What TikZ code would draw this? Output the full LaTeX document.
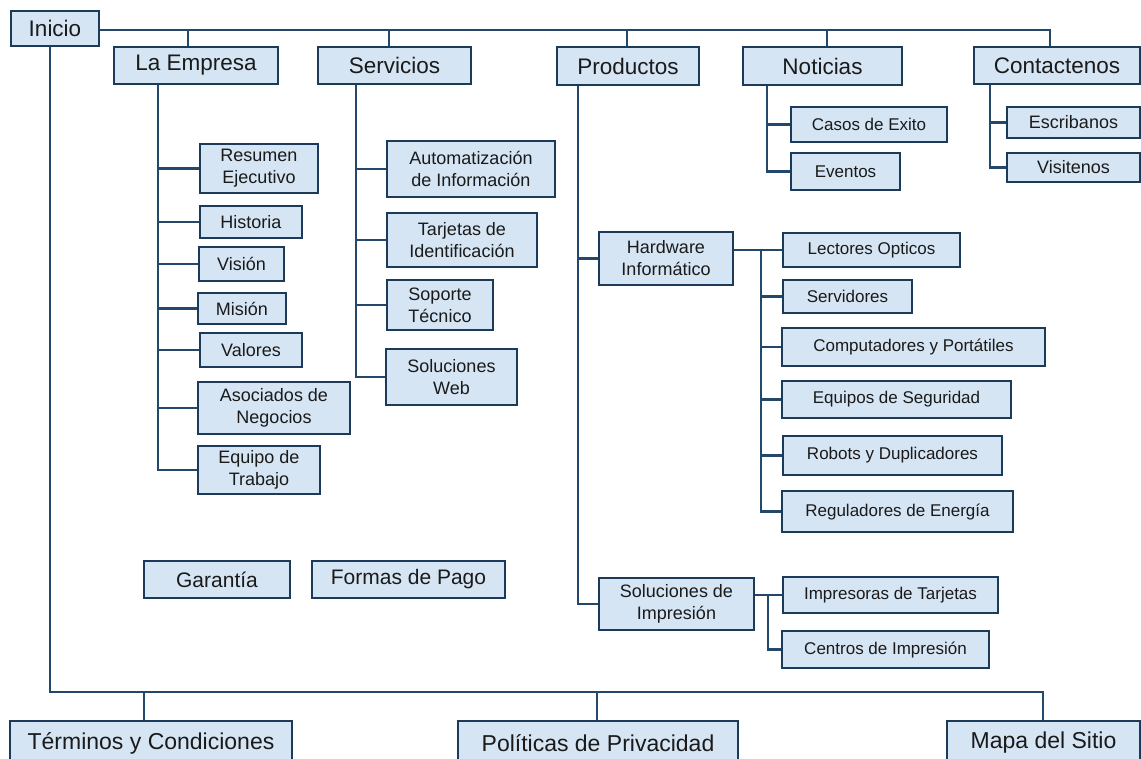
\documentclass[tikz,border=0pt]{standalone}
\usepackage{fontspec}
\setmainfont{Liberation Sans}
\definecolor{boxc}{HTML}{1C3B5A}
\definecolor{linec}{HTML}{24486C}
\definecolor{fillc}{HTML}{D6E5F4}
\definecolor{txt}{HTML}{1A1A1A}
\tikzset{
  box/.style={draw=boxc, fill=fillc, line width=2.6pt, inner sep=0pt, align=center, text=txt},
  big/.style={font=\fontsize{22.5}{26}\selectfont},
  bot/.style={font=\fontsize{23}{27}\selectfont},
  mid/.style={font=\fontsize{21}{25}\selectfont},
  med/.style={font=\fontsize{18}{22}\selectfont},
  sml/.style={font=\fontsize{17}{21}\selectfont},
  conn/.style={draw=linec, line width=2.8pt},
}
\begin{document}
\begin{tikzpicture}[x=1pt,y=-1pt]
\clip (0,0) rectangle (1141,758);
\fill[white] (0,0) rectangle (1141,758);
% level 1
\node[box,big,minimum width=88pt,minimum height=35pt] (Ini) at (55,28.5) {Inicio};
\node[box,big,minimum width=164pt,minimum height=37pt] (LE) at (196,65.5) {La Empresa};
\node[box,big,minimum width=153pt,minimum height=37pt] (Sv) at (394.5,65.5) {Servicios};
\node[box,big,minimum width=142pt,minimum height=38pt] (Pr) at (628,66) {Productos};
\node[box,big,minimum width=159pt,minimum height=38pt] (No) at (822.5,66) {Noticias};
\node[box,big,minimum width=166pt,minimum height=37pt] (Co) at (1057,65.5) {Contactenos};
% La Empresa
\node[box,med,minimum width=118pt,minimum height=49pt] (Res) at (259,168.5) {Resumen\\Ejecutivo};
\node[box,med,minimum width=102pt,minimum height=32pt] (His) at (251,222) {Historia};
\node[box,med,minimum width=85pt,minimum height=34pt] (Vis) at (241.5,264) {Visión};
\node[box,med,minimum width=88pt,minimum height=31pt] (Mis) at (242,308.5) {Misión};
\node[box,med,minimum width=102pt,minimum height=34pt] (Val) at (251,350) {Valores};
\node[box,med,minimum width=152pt,minimum height=52pt] (Aso) at (274,408) {Asociados de\\Negocios};
\node[box,med,minimum width=122pt,minimum height=48pt] (Eqt) at (259,470) {Equipo de\\Trabajo};
% Servicios
\node[box,med,minimum width=168pt,minimum height=56pt] (Aut) at (471,169) {Automatización\\de Información};
\node[box,med,minimum width=150pt,minimum height=54pt] (Tar) at (462,240) {Tarjetas de\\Identificación};
\node[box,med,minimum width=106pt,minimum height=50pt] (Sop) at (440,305) {Soporte\\Técnico};
\node[box,med,minimum width=131pt,minimum height=56pt] (SWe) at (451.5,377) {Soluciones\\Web};
% Productos
\node[box,med,minimum width=134pt,minimum height=53pt] (Hw) at (666,258.5) {Hardware\\Informático};
\node[box,sml,minimum width=177pt,minimum height=34pt] (Lec) at (871.5,250) {Lectores Opticos};
\node[box,sml,minimum width=129pt,minimum height=33pt] (Ser) at (847.5,296.5) {Servidores};
\node[box,sml,minimum width=263pt,minimum height=38pt] (Com) at (913.5,347) {Computadores y Portátiles};
\node[box,sml,minimum width=229pt,minimum height=37pt] (EqS) at (896.5,399.5) {Equipos de Seguridad};
\node[box,sml,minimum width=219pt,minimum height=39pt] (Rob) at (892.5,455.5) {Robots y Duplicadores};
\node[box,sml,minimum width=231pt,minimum height=41pt] (Reg) at (897.5,511.5) {Reguladores de Energía};
\node[box,med,minimum width=155pt,minimum height=52pt] (SIm) at (676.5,604) {Soluciones de\\Impresión};
\node[box,sml,minimum width=215pt,minimum height=36pt] (Imp) at (890.5,595) {Impresoras de Tarjetas};
\node[box,sml,minimum width=207pt,minimum height=37pt] (Cen) at (885.5,649.5) {Centros de Impresión};
% Noticias
\node[box,sml,minimum width=156pt,minimum height=35pt] (Cas) at (869,124.5) {Casos de Exito};
\node[box,sml,minimum width=109pt,minimum height=37pt] (Eve) at (845.5,171.5) {Eventos};
% Contactenos
\node[box,med,minimum width=133pt,minimum height=31pt] (Esc) at (1073.5,122.5) {Escribanos};
\node[box,med,minimum width=133pt,minimum height=29pt] (Vit) at (1073.5,167.5) {Visitenos};
% loose
\node[box,mid,minimum width=146pt,minimum height=37pt] (Gar) at (217,579.5) {Garantía};
\node[box,mid,minimum width=193pt,minimum height=37pt] (For) at (408.5,579.5) {Formas de Pago};
% bottom
\node[box,bot,minimum width=282pt,minimum height=44pt] (Ter) at (151,743) {Términos y Condiciones};
\node[box,bot,minimum width=280pt,minimum height=44pt] (Pol) at (598,743) {Políticas de Privacidad};
\node[box,bot,minimum width=193pt,minimum height=44pt] (Map) at (1043.5,743) {Mapa del Sitio};

% coordinates
\coordinate (topR) at (1050,30);
\coordinate (botL) at (50,692);
\coordinate (botR) at (1043,692);
\coordinate (Tle) at ([xshift=-38pt]LE.south);
\coordinate (Tsv) at ([xshift=-38.5pt]Sv.south);
\coordinate (Tpr) at ([xshift=-50pt]Pr.south);
\coordinate (Tno) at ([xshift=-55.5pt]No.south);
\coordinate (Tco) at ([xshift=-67pt]Co.south);
\coordinate (Thw) at (761,250);
\coordinate (Tsi) at (768,595);

% top bus
\draw[conn] (Ini.east |- topR) -- (topR) -- (topR |- Co.north);
\draw[conn] ([xshift=-8pt]LE.north) -- ([xshift=-8pt]LE.north |- topR);
\draw[conn] ([xshift=-5.5pt]Sv.north) -- ([xshift=-5.5pt]Sv.north |- topR);
\draw[conn] ([xshift=-1pt]Pr.north) -- ([xshift=-1pt]Pr.north |- topR);
\draw[conn] ([xshift=4.5pt]No.north) -- ([xshift=4.5pt]No.north |- topR);
% bottom bus
\draw[conn] ([xshift=-5pt]Ini.south) -- (botL) -- (botR) -- (botR |- Map.north);
\draw[conn] ([xshift=-7pt]Ter.north) -- ([xshift=-7pt]Ter.north |- botL);
\draw[conn] ([xshift=-1pt]Pol.north) -- ([xshift=-1pt]Pol.north |- botL);
% La Empresa
\draw[conn] (Tle) |- (Eqt.west);
\foreach \n in {Res,His,Vis,Mis,Val,Aso} \draw[conn] (\n.west) -- (\n.west -| Tle);
% Servicios
\draw[conn] (Tsv) |- (SWe.west);
\foreach \n in {Aut,Tar,Sop} \draw[conn] (\n.west) -- (\n.west -| Tsv);
% Productos
\draw[conn] (Tpr) |- (SIm.west);
\draw[conn] (Hw.west) -- (Hw.west -| Tpr);
\draw[conn] (Lec.west) -- (Lec.west -| Hw.east);
\draw[conn] (Thw) |- (Reg.west);
\foreach \n in {Ser,Com,EqS,Rob} \draw[conn] (\n.west) -- (\n.west -| Thw);
\draw[conn] (Imp.west) -- (Imp.west -| SIm.east);
\draw[conn] (Tsi) |- (Cen.west);
% Noticias
\draw[conn] (Tno) |- (Eve.west);
\draw[conn] (Cas.west) -- (Cas.west -| Tno);
% Contactenos
\draw[conn] (Tco) |- (Vit.west);
\draw[conn] (Esc.west) -- (Esc.west -| Tco);
\end{tikzpicture}
\end{document}
